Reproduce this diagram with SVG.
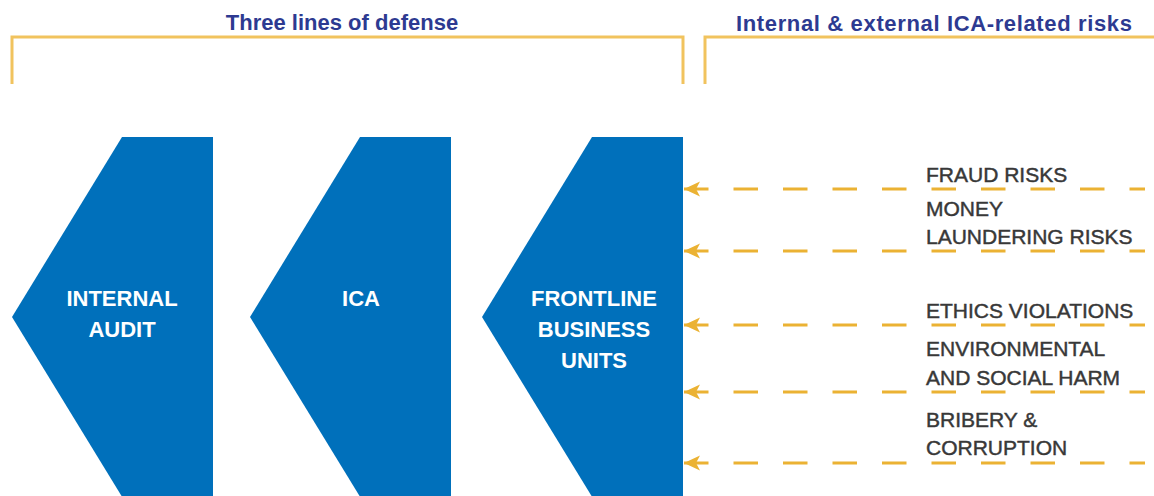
<svg xmlns="http://www.w3.org/2000/svg" width="1154" height="496" viewBox="0 0 1154 496">
  <style>
    .hdr { font-family: "Liberation Sans", Arial, sans-serif; font-weight: 700; font-size: 22px; fill: #2d3a91; }
    .bracket { fill: none; stroke: #f1c35e; stroke-width: 3; }
    .chev { fill: #0070bb; }
    .chev-label { font-family: "Liberation Sans", Arial, sans-serif; font-weight: 700; font-size: 22px; fill: #ffffff; text-anchor: middle; }
    .risk { font-family: "Liberation Sans", Arial, sans-serif; font-weight: 400; font-size: 21px; fill: #383838; stroke: #383838; stroke-width: 0.45; }
    .flow { fill: none; stroke: #ebb233; stroke-width: 3; stroke-dasharray: 24.5 25; marker-start: url(#head); }
  </style>
  <defs>
    <marker id="head" markerUnits="userSpaceOnUse" viewBox="0 -8 18 16" refX="17" refY="0" markerWidth="18" markerHeight="16" orient="auto-start-reverse">
      <path d="M17,0 L1,-7.5 L5,0 L1,7.5 Z" fill="#ebb233"/>
    </marker>
  </defs>

  <rect width="1154" height="496" fill="#ffffff"/>

  <!-- headings with their brackets -->
  <g id="heading-defense">
    <text class="hdr" x="342" y="30" text-anchor="middle">Three lines of defense</text>
    <path class="bracket" d="M12,84 V37 H683 V84"/>
  </g>
  <g id="heading-risks">
    <text class="hdr" x="736" y="31" textLength="396" lengthAdjust="spacing">Internal &amp; external ICA-related risks</text>
    <path class="bracket" d="M705,84 V37 H1154"/>
  </g>

  <!-- the three lines of defense -->
  <g id="internal-audit">
    <polygon class="chev" points="122,137 213,137 213,500 124,500 12,317"/>
    <text class="chev-label" x="122" y="306">INTERNAL</text>
    <text class="chev-label" x="122" y="337">AUDIT</text>
  </g>
  <g id="ica">
    <polygon class="chev" points="360,137 451,137 451,500 362,500 250,317"/>
    <text class="chev-label" x="361" y="306">ICA</text>
  </g>
  <g id="frontline">
    <polygon class="chev" points="592,137 683,137 683,500 594,500 482,317"/>
    <text class="chev-label" x="594" y="306">FRONTLINE</text>
    <text class="chev-label" x="594" y="337">BUSINESS</text>
    <text class="chev-label" x="594" y="368">UNITS</text>
  </g>

  <!-- risk labels -->
  <g id="risk-fraud">
    <text class="risk" x="926" y="182">FRAUD RISKS</text>
  </g>
  <g id="risk-money-laundering">
    <text class="risk" x="926" y="216">MONEY</text>
    <text class="risk" x="926" y="244">LAUNDERING RISKS</text>
  </g>
  <g id="risk-ethics">
    <text class="risk" x="926" y="318">ETHICS VIOLATIONS</text>
  </g>
  <g id="risk-environmental">
    <text class="risk" x="926" y="356">ENVIRONMENTAL</text>
    <text class="risk" x="926" y="385">AND SOCIAL HARM</text>
  </g>
  <g id="risk-bribery">
    <text class="risk" x="926" y="427">BRIBERY &amp;</text>
    <text class="risk" x="926" y="455">CORRUPTION</text>
  </g>

  <!-- risks pressing on the frontline -->
  <g id="connectors">
    <path class="flow" d="M684,189 H1145"/>
    <path class="flow" d="M684,251 H1145"/>
    <path class="flow" d="M684,325 H1145"/>
    <path class="flow" d="M684,392 H1145"/>
    <path class="flow" d="M684,463 H1145"/>
  </g>
</svg>
